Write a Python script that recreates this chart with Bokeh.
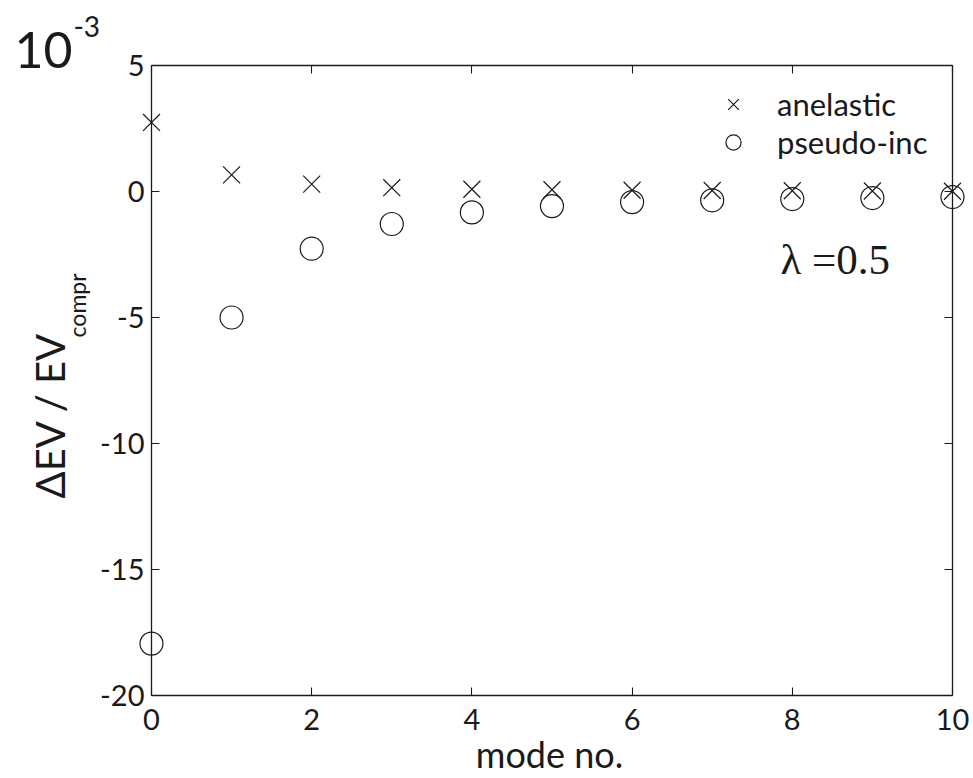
import math
from bokeh.plotting import figure
from bokeh.models import (LinearAxis, Range1d, Label, Legend, LegendItem,
                          FixedTicker, CustomJSTickFormatter)
from bokeh.embed import file_html
from bokeh.resources import INLINE

# ---- data ----
modes = [0, 1, 2, 3, 4, 5, 6, 7, 8, 9, 10]
anelastic = [2.74, 0.66, 0.29, 0.15, 0.09, 0.07, 0.05, 0.04, 0.03, 0.02, 0.01]
pseudo_inc = [-17.94, -5.0, -2.27, -1.29, -0.83, -0.58, -0.42, -0.35, -0.30, -0.26, -0.22]
x_ticks = [0, 2, 4, 6, 8, 10]
y_ticks = [-20, -15, -10, -5, 0, 5]
x_lim = (0, 10)
y_lim = (-20, 5)

FONT = "Lato"
INK = "#1a1a1a"

# the frame covers the whole canvas; the axes box is drawn by four
# axes fixed at the limits, so that outside texts are not clipped
p = figure(frame_width=972, frame_height=777,
           min_border_left=0, min_border_top=0, min_border_right=0,
           min_border_bottom=0,
           x_range=Range1d(-1.885, 10.250), y_range=Range1d(-23.254, 7.579),
           x_axis_location=None, y_axis_location=None,
           output_backend="svg", toolbar_location=None)

p.xgrid.visible = False
p.ygrid.visible = False
p.outline_line_color = None
p.background_fill_color = "white"
p.border_fill_color = "white"


def make_axis(ticks, loc, bounds, labels=True):
    ax = LinearAxis(fixed_location=loc, bounds=bounds)
    ax.ticker = FixedTicker(ticks=ticks)
    ax.axis_line_color = INK
    ax.axis_line_width = 1.3
    ax.major_tick_line_color = INK
    ax.major_tick_line_width = 1.1
    ax.major_tick_in = 8
    ax.major_tick_out = 0
    ax.minor_tick_line_color = None
    ax.major_label_text_font = FONT
    ax.major_label_text_color = INK
    if labels:
        ax.major_label_text_font_size = "29px"
        ax.major_label_overrides = {t: str(t) for t in ticks}
    else:
        ax.major_label_text_font_size = "1px"
        ax.formatter = CustomJSTickFormatter(code="return ''")
    return ax


xb = make_axis(x_ticks, y_lim[0], x_lim)
xb.major_label_standoff = 14
p.add_layout(xb, "below")

yl = make_axis(y_ticks, x_lim[0], y_lim)
yl.major_label_standoff = 7
p.add_layout(yl, "left")

p.add_layout(make_axis(x_ticks, y_lim[1], x_lim, labels=False), "above")
p.add_layout(make_axis(y_ticks, x_lim[1], y_lim, labels=False), "right")

r_an = p.scatter(modes, anelastic, marker="x", size=24,
                 line_color=INK, line_width=1.2)
r_ps = p.scatter(modes, pseudo_inc, marker="circle", size=23,
                 line_color=INK, line_width=1.2, fill_color=None)

legend = Legend(items=[LegendItem(label="anelastic", renderers=[r_an]),
                       LegendItem(label="pseudo-inc", renderers=[r_ps])],
                location=(707, 616))
legend.border_line_color = None
legend.background_fill_alpha = 0
legend.label_text_font = FONT
legend.label_text_font_size = "31px"
legend.label_text_color = INK
legend.glyph_width = 52
legend.glyph_height = 38
legend.label_standoff = 18
legend.spacing = 0
legend.padding = 0
legend.margin = 0
p.add_layout(legend)


def txt(x, y, s, size, font=FONT, angle=0.0, align="left"):
    p.add_layout(Label(x=x, y=y, text=s, angle=angle, text_font=font,
                       text_font_size=size, text_color=INK,
                       text_baseline="alphabetic", text_align=align))


txt(7.853, -2.70, "λ =0.5", "43px", font="Liberation Serif")
txt(-1.710, 5.595, "10", "50px")
txt(-0.974, 6.55, "-3", "28px")
txt(-1.261, -12.18, "ΔEV / EV", "40px", angle=math.pi / 2)
txt(-0.924, -5.79, "compr", "23px", angle=math.pi / 2)
txt(4.969, -22.34, "mode no.", "36px", align="center")

open("out.html", "w").write(file_html(p, INLINE))
